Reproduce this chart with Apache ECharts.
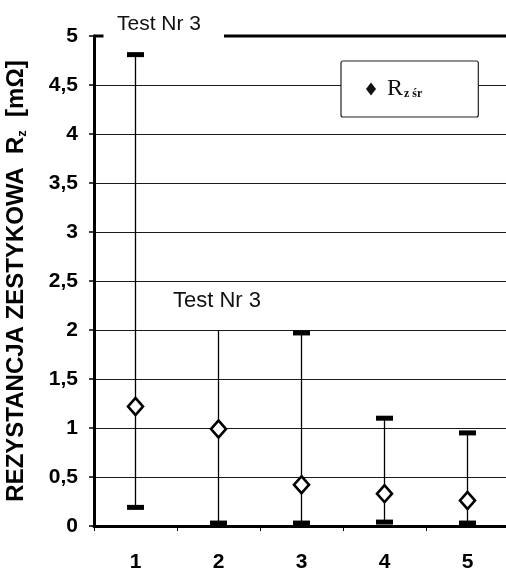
<!DOCTYPE html>
<html>
<head>
<meta charset="utf-8">
<script src="https://cdn.jsdelivr.net/npm/echarts@6/dist/echarts.min.js"></script>
<style>
  html, body { margin: 0; padding: 0; background: #fff; }
  #chart { width: 506px; height: 572px; }
</style>
</head>
<body>
<div id="chart"></div>
<script>
// data
const categories = ['1', '2', '3', '4', '5'];
const meanValues = [1.22, 0.99, 0.42, 0.33, 0.26];
const minValues = [0.19, 0.03, 0.03, 0.04, 0.03];
const maxValues = [4.81, 2.0, 1.97, 1.1, 0.95];
// upper cap is not drawn for test 2 in the original
const maxCaps = [4.81, null, 1.97, 1.1, 0.95];
const yTicks = [0, 0.5, 1, 1.5, 2, 2.5, 3, 3.5, 4, 4.5, 5];

const font = '"Liberation Sans", Arial, sans-serif';
const serif = '"Liberation Serif", "Times New Roman", serif';

const rangeData = categories.map((c, i) => [i, minValues[i], maxValues[i], maxCaps[i]]);

// grid lines: last one (value 5) is drawn separately as a broken thick border
const splitColors = yTicks.map((v, i) => (i === yTicks.length - 1 ? 'transparent' : '#1a1a1a'));

const chart = echarts.init(document.getElementById('chart'));

const option = {
  animation: false,
  backgroundColor: '#fff',
  grid: { left: 94, right: -3, top: 36, bottom: 46, containLabel: false, outerBoundsMode: 'none' },
  title: [
    {
      text: 'Test Nr 3',
      left: 112,
      top: 9,
      textStyle: { fontFamily: font, fontSize: 21, fontWeight: 'normal', color: '#111' },
    },
    {
      text: 'Test Nr 3',
      left: 168,
      top: 285,
      textStyle: { fontFamily: font, fontSize: 22, fontWeight: 'normal', color: '#111' },
    },
  ],
  legend: {
    left: 341,
    top: 61,
    orient: 'horizontal',
    padding: [16, 56, 16, 25],
    backgroundColor: '#fff',
    borderColor: '#222',
    borderWidth: 1.2,
    borderRadius: 2,
    itemWidth: 10,
    itemHeight: 13,
    itemGap: 10,
    data: [{ name: 'Rz śr', icon: 'diamond', itemStyle: { color: '#111', borderWidth: 0 } }],
    formatter: () => '{r|R}{s|z śr}',
    textStyle: {
      rich: {
        r: { fontFamily: serif, fontSize: 24, color: '#111', padding: [0, 0, 0, 6] },
        s: { fontFamily: serif, fontSize: 12, color: '#111', fontWeight: 'bold', padding: [10, 0, 0, 1] },
      },
    },
  },
  xAxis: {
    type: 'category',
    data: categories,
    axisLine: { lineStyle: { color: '#000', width: 3 } },
    axisTick: { show: true, length: 5, lineStyle: { color: '#000', width: 1 } },
    axisLabel: { fontFamily: font, fontSize: 21, fontWeight: 'bold', color: '#000', margin: 26 },
    splitLine: { show: false },
  },
  yAxis: {
    type: 'value',
    min: 0,
    max: 5,
    interval: 0.5,
    name: '{a|REZYSTANCJA ZESTYKOWA  R}{b|z}{a|  [mΩ]}',
    nameLocation: 'middle',
    nameGap: 65,
    nameRotate: 90,
    nameTextStyle: {
      rich: {
        a: { fontFamily: font, fontSize: 24, fontWeight: 'bold', color: '#000' },
        b: { fontFamily: font, fontSize: 13, fontWeight: 'bold', color: '#000', padding: [12, 0, 0, 0] },
      },
    },
    axisLine: { show: true, lineStyle: { color: '#000', width: 3 } },
    axisTick: { show: true, length: 5, lineStyle: { color: '#000', width: 1.5 } },
    axisLabel: {
      fontFamily: font,
      fontSize: 21,
      fontWeight: 'bold',
      color: '#000',
      margin: 16,
      formatter: (v) => String(v).replace('.', ','),
    },
    splitLine: { show: true, lineStyle: { color: splitColors, width: 1.2 } },
  },
  series: [
    {
      name: 'range',
      type: 'custom',
      data: rangeData,
      z: 3,
      renderItem: (params, api) => {
        const x = api.value(0);
        const lo = api.coord([x, api.value(1)]);
        const hi = api.coord([x, api.value(2)]);
        const capTop = api.value(3);
        const capW = 17;
        const capH = 5;
        const children = [
          {
            type: 'line',
            shape: { x1: lo[0], y1: lo[1], x2: hi[0], y2: hi[1] },
            style: { stroke: '#000', lineWidth: 1.3 },
          },
          {
            type: 'rect',
            shape: { x: lo[0] - capW / 2, y: lo[1] - capH / 2, width: capW, height: capH },
            style: { fill: '#000' },
          },
        ];
        if (capTop != null && !isNaN(capTop)) {
          const top = api.coord([x, capTop]);
          children.push({
            type: 'rect',
            shape: { x: top[0] - capW / 2, y: top[1] - capH / 2, width: capW, height: capH },
            style: { fill: '#000' },
          });
        }
        return { type: 'group', children };
      },
    },
    {
      name: 'Rz śr',
      type: 'scatter',
      data: meanValues,
      symbol: 'diamond',
      symbolSize: [15, 17],
      z: 5,
      itemStyle: { color: '#fff', borderColor: '#000', borderWidth: 2.6, opacity: 1 },
    },
  ],
};

chart.setOption(option);

// thick top border at y = 5, broken where the title sits
const yTop = chart.convertToPixel({ yAxisIndex: 0 }, 5);
const xLeft = chart.convertToPixel({ xAxisIndex: 0 }, 0) - 42;
chart.setOption({
  graphic: [
    {
      type: 'line',
      shape: { x1: xLeft, y1: yTop, x2: xLeft + 10, y2: yTop },
      style: { stroke: '#000', lineWidth: 3 },
    },
    {
      type: 'line',
      shape: { x1: 224, y1: yTop, x2: 506, y2: yTop },
      style: { stroke: '#000', lineWidth: 3 },
    },
  ],
});
</script>
</body>
</html>
